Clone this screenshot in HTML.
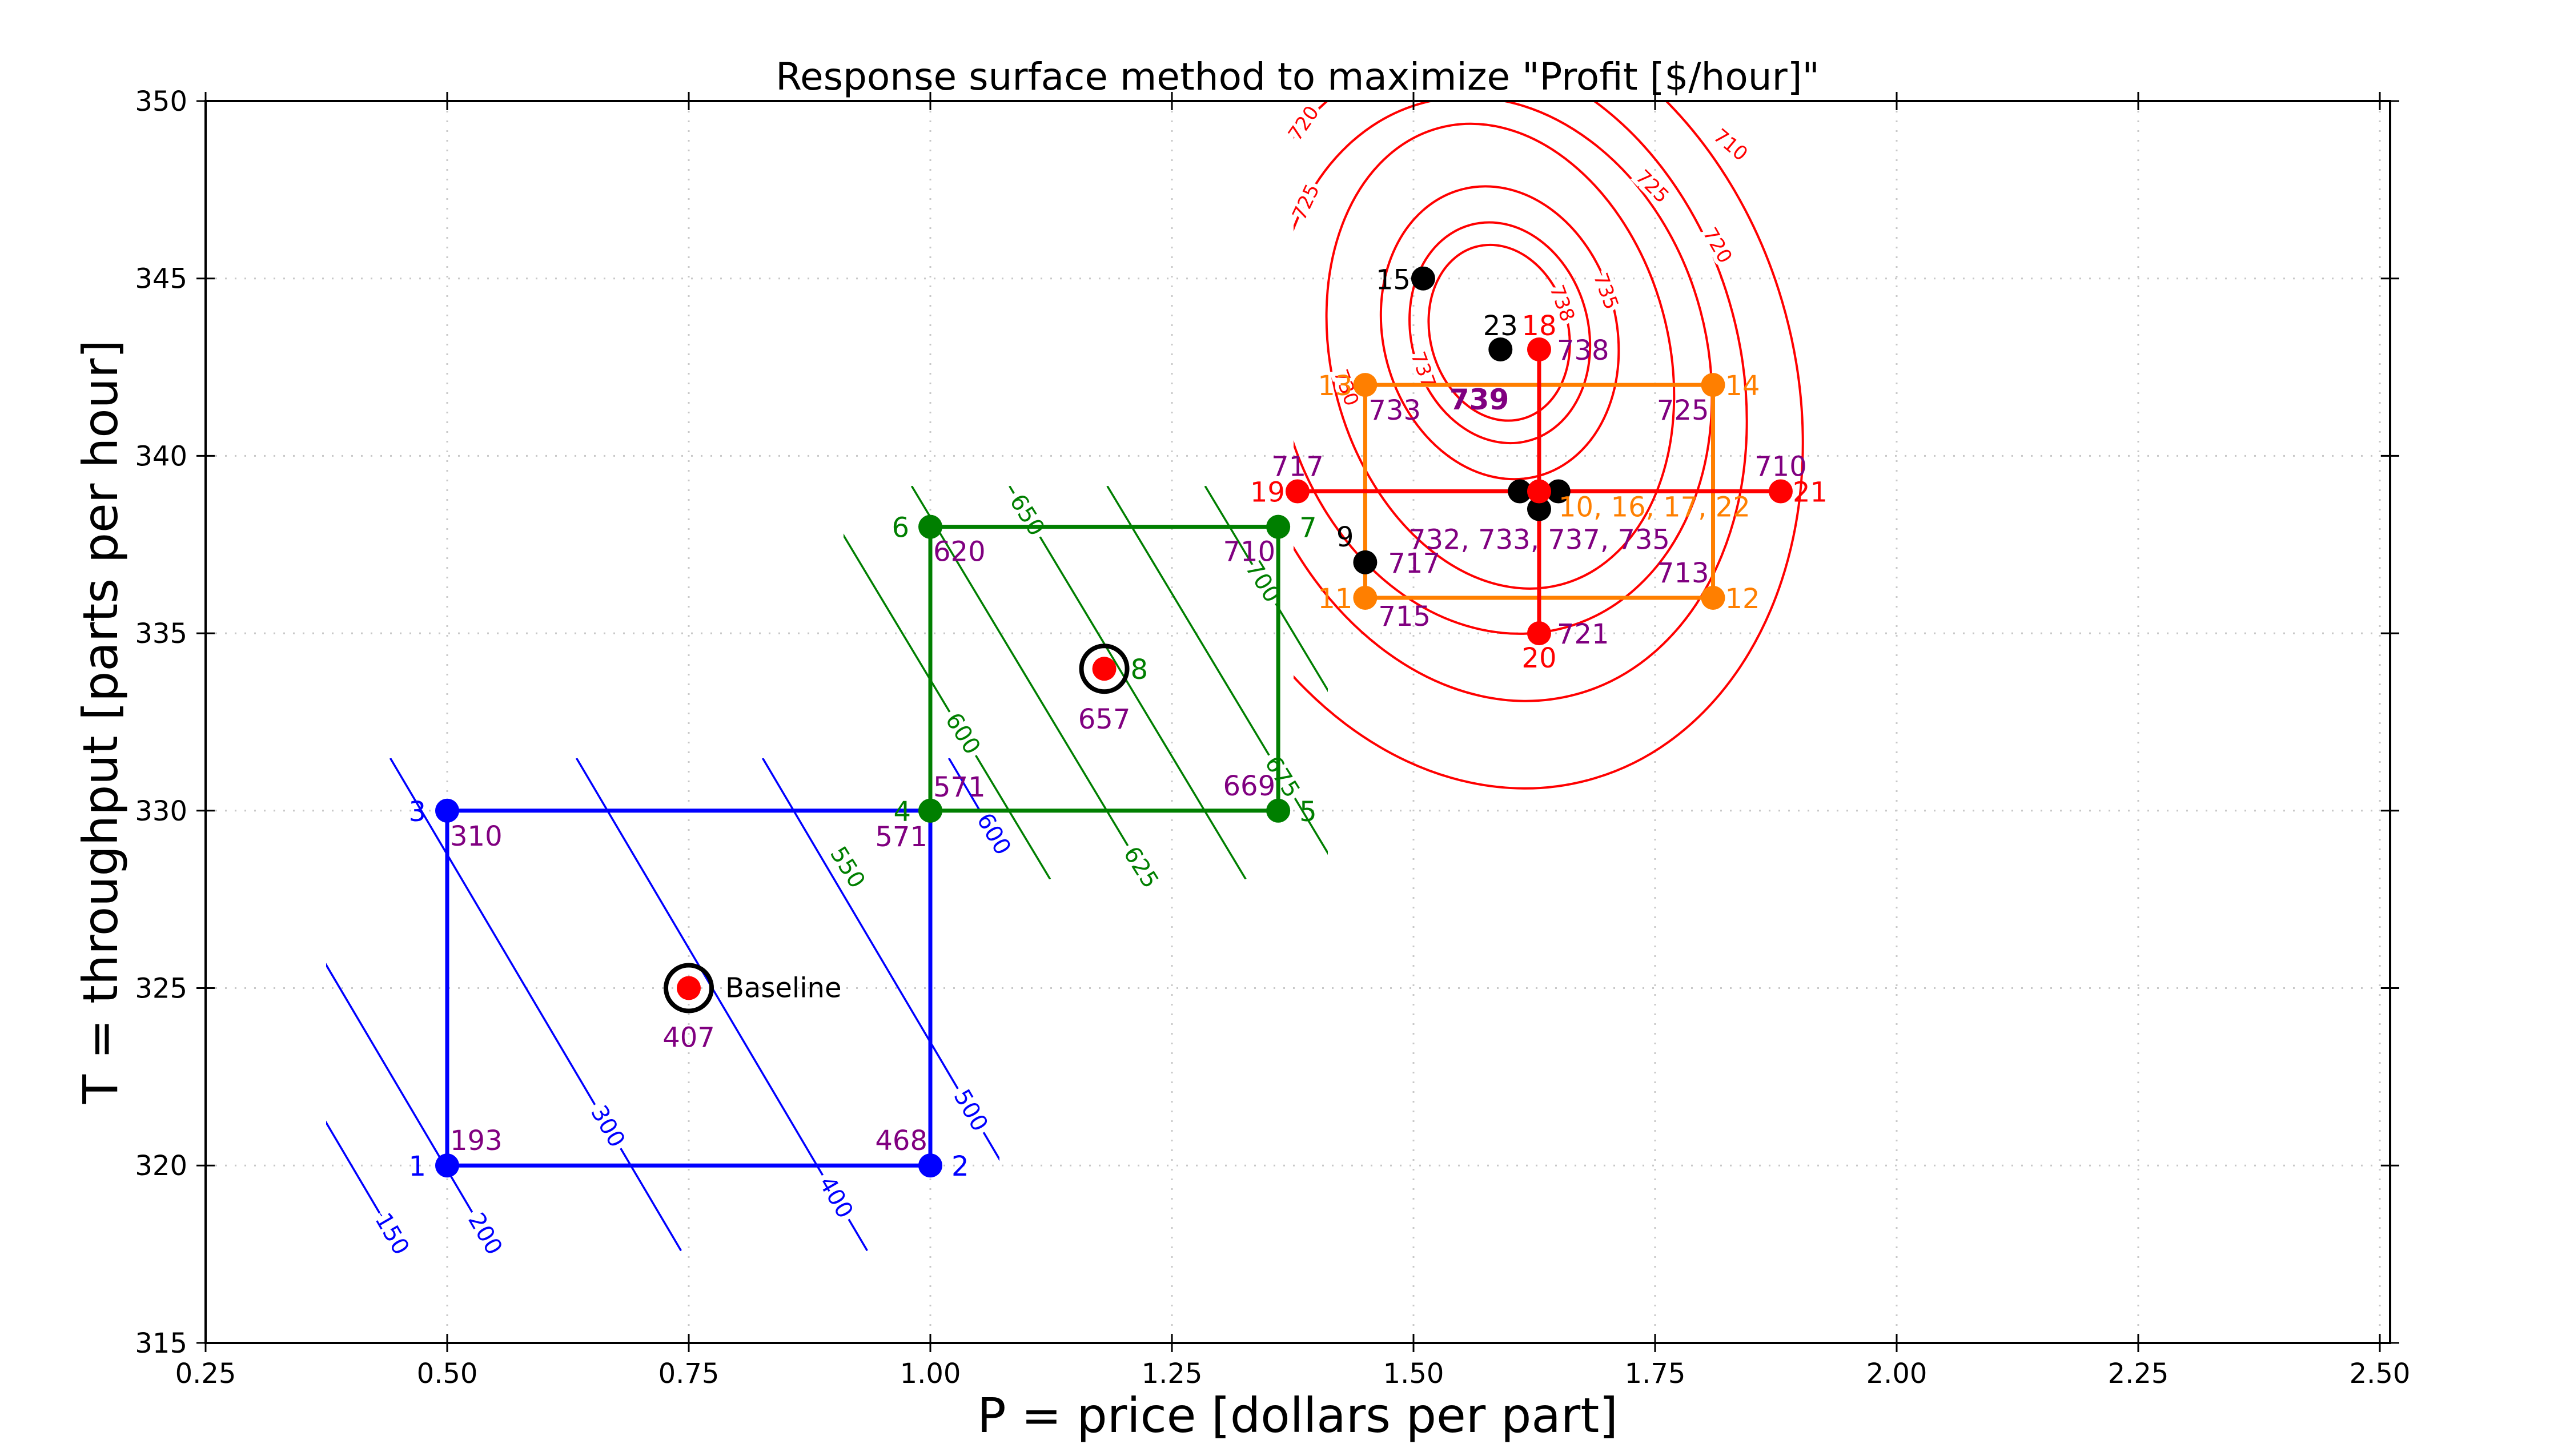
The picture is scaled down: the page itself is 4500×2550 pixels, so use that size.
<!DOCTYPE html>
<html><head><meta charset="utf-8"><title>Response surface method</title>
<style>
html,body{margin:0;padding:0;background:#fff;}
svg{display:block;font-family:"DejaVu Sans","Liberation Sans",sans-serif;}
</style></head>
<body>
<svg id="chart" width="4500" height="2550" viewBox="0 0 4500 2550" xmlns="http://www.w3.org/2000/svg">
<defs>
<clipPath id="plotclip"><rect x="360" y="177" width="3825" height="2175"/></clipPath>
<clipPath id="redclip"><rect x="2265" y="177" width="1920" height="2175"/></clipPath>
<clipPath id="blueclip"><rect x="571" y="1328" width="1179" height="863"/></clipPath>
<clipPath id="greenclip"><rect x="1477" y="851" width="848" height="689"/></clipPath>
</defs>
<rect x="0" y="0" width="4500" height="2550" fill="#fff"/>
<g id="grid"></g>
<g id="contours"></g>
<g id="series"></g>
<g id="labels"></g>
<rect x="360" y="177" width="3825" height="2175" fill="none" stroke="#000" stroke-width="4"/>
<g id="axes"></g>
<text x="2272" y="157" font-size="66" text-anchor="middle">Response surface method to maximize "Profit [$/hour]"</text>
<text x="2272" y="2508" font-size="84" text-anchor="middle">P = price [dollars per part]</text>
<text x="0" y="0" font-size="84" text-anchor="middle" transform="translate(205,1264) rotate(-90)">T = throughput [parts per hour]</text>
</svg>
<script>
// ---- axis domain ----
const xMin = 0.25, xMax = 2.5106, yMin = 315, yMax = 350;
const xTicks = [0.25,0.50,0.75,1.00,1.25,1.50,1.75,2.00,2.25,2.50];
const xTickLabels = ["0.25","0.50","0.75","1.00","1.25","1.50","1.75","2.00","2.25","2.50"];
const yTicks = [315,320,325,330,335,340,345,350];
const yTickLabels = ["315","320","325","330","335","340","345","350"];

// ---- blue linear model contours ----
const blueLevels = [150,200,300,400,500,600];
const blueLabelT = [318.07,318.07,321.1,319.1,321.55,329.34];
const blueCoef = [-3658.1, 519, 11.25];   // b0, bP, bT
const blueDomainT = [317.6, 331.48];
// ---- green linear model contours ----
const greenLevels = [550,600,625,650,675,700];
const greenLabelT = [328.4,332.17,328.4,338.33,330.95,336.45];
const greenCoef = [-1465.6, 247, 5.45];
const greenDomainT = [328.07, 339.15];
// ---- red quadratic contours ----
const redLevels = [738,737,735,730,725,720,710];
const redCenterP = [1.5887,1.5893,1.5893,1.5898,1.5827,1.5798,1.5739];
const redCenterT = [343.47,343.47,343.47,342.81,342.55,342.23,341.74];
const redHalfP = [0.0715,0.0916,0.1206,0.1743,0.2216,0.2589,0.3221];
const redHalfT = [2.51,3.15,4.18,6.66,7.66,9.27,11.26];
const redLabelText = ["720","725","730","737","738","735","725","720","710"];
const redLabelP = [1.3865,1.3889,1.4302,1.510,1.6537,1.699,1.747,1.8144,1.828];
const redLabelT = [349.37,347.15,341.92,342.42,344.30,344.64,347.59,345.93,348.76];
const redLabelRot = [-55,-65,70,70,70,70,45,60,40];

// ---- experiments ----
const blueP = [0.5,1.0,1.0,0.5], blueT = [320,320,330,330];
const blueIds = ["1","2","4","3"], blueVals = ["193","468","571","310"];
const greenP = [1.0,1.36,1.36,1.0], greenT = [330,330,338,338];
const greenIds = ["4","5","7","6"], greenVals = ["571","669","710","620"];
const orangeP = [1.45,1.81,1.81,1.45], orangeT = [336,336,342,342];
const orangeIds = ["11","12","14","13"], orangeVals = ["715","713","725","733"];
const redP = [1.63,1.38,1.63,1.88], redT = [343,339,335,339];
const redIds = ["18","19","20","21"], redVals = ["738","717","721","710"];
const blackP = [1.51,1.59,1.45,1.61,1.65,1.63], blackT = [345,343,337,339,339,338.5];
const blackIds = ["15","23","9","","",""];
const baselineP = 0.75, baselineT = 325, baselineVal = "407";
const pt8P = 1.18, pt8T = 334, pt8Val = "657";
const centerP = 1.63, centerT = 339;
const centerIds = "10, 16, 17, 22", centerVals = "732, 733, 737, 735";
const optimumP = 1.568, optimumT = 341.6, optimumVal = "739";

const NS = "http://www.w3.org/2000/svg";
const X = p => 360 + (p - xMin) * 1692;
const Y = t => 177 + (yMax - t) * 62.14;
function mk(tag, attrs, parent){ const e=document.createElementNS(NS,tag); for(const k in attrs) e.setAttribute(k,attrs[k]); parent.appendChild(e); return e; }
const grid=document.getElementById('grid'), axes=document.getElementById('axes'),
      cont=document.getElementById('contours'), ser=document.getElementById('series'), lab=document.getElementById('labels');

xTicks.forEach((v,i)=>{
  const x=X(v);
  const g=mk('line',{x1:x,y1:177,x2:x,y2:2352,stroke:'#c8c8c8','stroke-width':3,'stroke-dasharray':'3,14'},grid);
   
  const t=mk('line',{x1:x,y1:2336,x2:x,y2:2368,stroke:'#000','stroke-width':3},axes);
   
  const t2=mk('line',{x1:x,y1:161,x2:x,y2:193,stroke:'#000','stroke-width':3},axes);
   
  const l=mk('text',{x:x,y:2422,'font-size':48,'text-anchor':'middle'},axes); l.textContent=xTickLabels[i];
   
});
yTicks.forEach((v,i)=>{
  const y=Y(v);
  const g=mk('line',{x1:360,y1:y,x2:4185,y2:y,stroke:'#c8c8c8','stroke-width':3,'stroke-dasharray':'3,14'},grid);
   
  const t=mk('line',{x1:344,y1:y,x2:376,y2:y,stroke:'#000','stroke-width':3},axes);
   
  const t2=mk('line',{x1:4169,y1:y,x2:4201,y2:y,stroke:'#000','stroke-width':3},axes);
   
  const l=mk('text',{x:328,y:y+17,'font-size':48,'text-anchor':'end'},axes); l.textContent=yTickLabels[i];
   
});

function linearContours(levels, labelTs, coef, dom, color, clip, rot, name){
  const g=mk('g',{'clip-path':'url(#'+clip+')'},cont);
   
  const Pat=(L,t)=>(L-coef[0]-coef[2]*t)/coef[1];
  levels.forEach((L,i)=>{
    const ln=mk('line',{x1:X(Pat(L,dom[1])),y1:Y(dom[1]),x2:X(Pat(L,dom[0])),y2:Y(dom[0]),stroke:color,'stroke-width':3.5},g);
     
  });
  levels.forEach((L,i)=>{
    const lx=X(Pat(L,labelTs[i])), ly=Y(labelTs[i]);
    const tx=mk('text',{x:lx,y:ly,'font-size':40,fill:color,'text-anchor':'middle','dominant-baseline':'central',stroke:'#fff','stroke-width':18,'paint-order':'stroke',transform:'rotate('+rot+' '+lx+' '+ly+')'},cont);
    tx.textContent=String(L);
     
  });
}
linearContours(blueLevels,blueLabelT,blueCoef,blueDomainT,'#0000ff','blueclip',60,'blue');
linearContours(greenLevels,greenLabelT,greenCoef,greenDomainT,'#007f00','greenclip',58,'green');

const rg=mk('g',{'clip-path':'url(#redclip)'},cont);
 
const rg2=mk('g',{'clip-path':'url(#plotclip)'},rg);
redLevels.forEach((L,i)=>{
  const cx=X(redCenterP[i]), cy=Y(redCenterT[i]);
  const e=mk('ellipse',{cx:cx,cy:cy,rx:redHalfP[i]*1692,ry:redHalfT[i]*62.14,fill:'none',stroke:'#ff0000','stroke-width':4,transform:'rotate(-15 '+cx+' '+cy+')'},rg2);
   
});
redLabelText.forEach((s,i)=>{
  const lx=X(redLabelP[i]), ly=Y(redLabelT[i]);
  const tx=mk('text',{x:lx,y:ly,'font-size':34,fill:'#ff0000','text-anchor':'middle','dominant-baseline':'central',stroke:'#fff','stroke-width':14,'paint-order':'stroke',transform:'rotate('+redLabelRot[i]+' '+lx+' '+ly+')'},cont);
  tx.textContent=s;
   
});

function box(P,T,color,name){
  const pts=P.map((p,i)=>X(p)+','+Y(T[i])).join(' ');
  const b=mk('polygon',{points:pts,fill:'none',stroke:color,'stroke-width':7},ser);
   
}
box(blueP,blueT,'#0000ff','blue');
box(greenP,greenT,'#007f00','green');
box(orangeP,orangeT,'#ff7f00','orange');
const rh=mk('line',{x1:X(redP[1]),y1:Y(redT[1]),x2:X(redP[3]),y2:Y(redT[3]),stroke:'#ff0000','stroke-width':7},ser);
 
const rv=mk('line',{x1:X(redP[0]),y1:Y(redT[0]),x2:X(redP[2]),y2:Y(redT[2]),stroke:'#ff0000','stroke-width':7},ser);
 

function dot(p,t,color,name){
  const c=mk('circle',{cx:X(p),cy:Y(t),r:21,fill:color},ser);
   
}
function txt(x,y,s,color,anchor,size,name,weight){
  const t=mk('text',{x:x,y:y,fill:color,'text-anchor':anchor,'font-size':size||48,'font-weight':weight||'normal'},lab);
  t.textContent=s;
   
}
const PUR='#800080';
blueP.forEach((p,i)=>{ dot(p,blueT[i],i===2?'#007f00':'#0000ff','blue-point-'+blueIds[i]); });
const bx=blueP.map(X), by=blueT.map(Y);
txt(bx[0]-37,by[0]+18,'1','#0000ff','end',48,'point-id-1');
txt(bx[0]+5,by[0]-27,'193',PUR,'start',48,'value-1');
txt(bx[1]+37,by[1]+18,'2','#0000ff','start',48,'point-id-2');
txt(bx[1]-5,by[1]-27,'468',PUR,'end',48,'value-2');
txt(bx[3]-37,by[3]+18,'3','#0000ff','end',48,'point-id-3');
txt(bx[3]+5,by[3]+61,'310',PUR,'start',48,'value-3');
txt(bx[2]-34,by[2]+18,'4','#007f00','end',48,'point-id-4');
txt(bx[2]-5,by[2]+62,blueVals[2],PUR,'end',48,'value-4-blue');
greenP.forEach((p,i)=>{ dot(p,greenT[i],'#007f00','green-point-'+greenIds[i]); });
const gx=greenP.map(X), gy=greenT.map(Y);
txt(gx[0]+5,gy[0]-25,greenVals[0],PUR,'start',48,'value-4-green');
txt(gx[1]+37,gy[1]+18,'5','#007f00','start',48,'point-id-5');
txt(gx[1]-5,gy[1]-27,'669',PUR,'end',48,'value-5');
txt(gx[2]+37,gy[2]+18,'7','#007f00','start',48,'point-id-7');
txt(gx[2]-5,gy[2]+60,'710',PUR,'end',48,'value-7');
txt(gx[3]-37,gy[3]+18,'6','#007f00','end',48,'point-id-6');
txt(gx[3]+5,gy[3]+60,'620',PUR,'start',48,'value-6');
[[baselineP,baselineT,'baseline'],[pt8P,pt8T,'point-8']].forEach(a=>{
  const r=mk('circle',{cx:X(a[0]),cy:Y(a[1]),r:40,fill:'none',stroke:'#000','stroke-width':8},ser);
   
  dot(a[0],a[1],'#ff0000',a[2]+'-point');
});
txt(X(baselineP)+64,Y(baselineT)+16,'Baseline','#000','start',48,'baseline-label');
txt(X(baselineP),Y(baselineT)+103,baselineVal,PUR,'middle',48,'value-baseline');
txt(X(pt8P)+46,Y(pt8T)+18,'8','#007f00','start',48,'point-id-8');
txt(X(pt8P),Y(pt8T)+105,pt8Val,PUR,'middle',48,'value-8');
orangeP.forEach((p,i)=>{ dot(p,orangeT[i],'#ff7f00','orange-point-'+orangeIds[i]); });
const ox=orangeP.map(X), oy=orangeT.map(Y);
txt(ox[0]-22,oy[0]+18,'11','#ff7f00','end',48,'point-id-11');
txt(ox[0]+23,oy[0]+49,'715',PUR,'start',48,'value-11');
txt(ox[1]+21,oy[1]+18,'12','#ff7f00','start',48,'point-id-12');
txt(ox[1]-7,oy[1]-27,'713',PUR,'end',48,'value-12');
txt(ox[2]+21,oy[2]+18,'14','#ff7f00','start',48,'point-id-14');
txt(ox[2]-7,oy[2]+61,'725',PUR,'end',48,'value-14');
txt(ox[3]-22,oy[3]+18,'13','#ff7f00','end',48,'point-id-13');
txt(ox[3]+6,oy[3]+61,'733',PUR,'start',48,'value-13');
blackP.forEach((p,i)=>{ dot(p,blackT[i],'#000','black-point-'+(blackIds[i]||'center-'+i)); });
txt(X(blackP[0])-22,Y(blackT[0])+19,'15','#000','end',48,'point-id-15');
txt(X(blackP[1]),Y(blackT[1])-25,'23','#000','middle',48,'point-id-23');
txt(X(blackP[2])-20,Y(blackT[2])-28,'9','#000','end',48,'point-id-9');
txt(X(blackP[2])+40,Y(blackT[2])+18,'717',PUR,'start',48,'value-9');
redP.forEach((p,i)=>{ dot(p,redT[i],'#ff0000','red-point-'+redIds[i]); });
dot(centerP,centerT,'#ff0000','center-point');
const rx=redP.map(X), ry=redT.map(Y);
txt(rx[0],ry[0]-25,'18','#ff0000','middle',48,'point-id-18');
txt(rx[0]+31,ry[0]+18,'738',PUR,'start',48,'value-18');
txt(rx[1]-22,ry[1]+18,'19','#ff0000','end',48,'point-id-19');
txt(rx[1],ry[1]-27,'717',PUR,'middle',48,'value-19');
txt(rx[2],ry[2]+60,'20','#ff0000','middle',48,'point-id-20');
txt(rx[2]+31,ry[2]+18,'721',PUR,'start',48,'value-20');
txt(rx[3]+21,ry[3]+18,'21','#ff0000','start',48,'point-id-21');
txt(rx[3],ry[3]-27,'710',PUR,'middle',48,'value-21');
txt(X(centerP)+34,Y(centerT)+44,centerIds,'#ff7f00','start',48,'center-point-ids');
txt(X(centerP),Y(centerT)+101,centerVals,PUR,'middle',48,'center-values');
txt(X(optimumP),Y(optimumT)+18,optimumVal,PUR,'middle',50,'optimum-value','bold');
</script>
</body></html>
